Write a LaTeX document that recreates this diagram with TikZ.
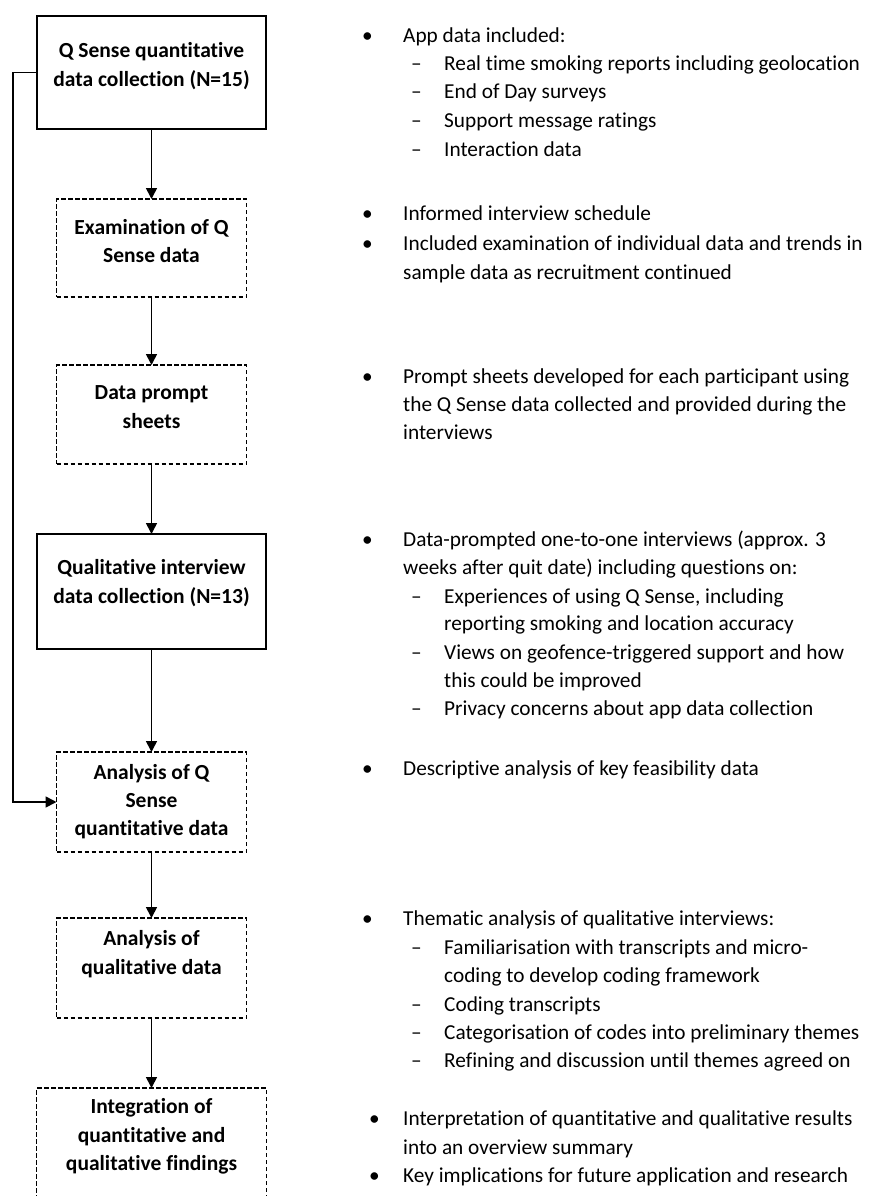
\documentclass[tikz,border=0pt]{standalone}
\usepackage{fontspec}
\setmainfont{Carlito}[Ligatures={NoCommon}]
\usetikzlibrary{arrows.meta}
\begin{document}
\begin{tikzpicture}[x=1pt,y=-1pt,
  box/.style={draw, line width=1.5pt, inner sep=0pt, outer sep=0pt},
  dbox/.style={box, dash pattern=on 4.5pt off 2.5pt},
  arr/.style={line width=1.7pt, -{Triangle[length=11pt,width=11pt]}},
  lbl/.style={align=center, inner sep=0pt, font=\fontsize{21.5}{28.3}\selectfont\bfseries},
  txt/.style={anchor=base west, inner sep=0pt, font=\fontsize{21.3}{28.3}\selectfont}]
\useasboundingbox (0,0) rectangle (870,1196);
\fill[white] (0,0) rectangle (870,1196);
% boxes
\node[box,  minimum width=229pt, minimum height=113pt] (b1) at (151.5,72.5) {};
\node[dbox, minimum width=190pt, minimum height=98pt]  (b2) at (151.5,248) {};
\node[dbox, minimum width=190pt, minimum height=99pt]  (b3) at (151.5,414.5) {};
\node[box,  minimum width=229pt, minimum height=115pt] (b4) at (151.5,591.5) {};
\node[dbox, minimum width=190pt, minimum height=100pt] (b5) at (151.5,802) {};
\node[dbox, minimum width=190pt, minimum height=100pt] (b6) at (151.5,968) {};
\node[dbox, minimum width=230pt, minimum height=140pt] (b7) at (151.5,1158) {};
% labels
\node[lbl] (l1) at (151.5,66) {Q Sense quantitative\\data collection (N=15)};
\node[lbl] (l2) at (151.5,241) {Examination of Q\\Sense data};
\node[lbl] (l3) at (151.5,407) {Data prompt\\sheets};
\node[lbl] (l4) at (151.5,583) {Qualitative interview\\data collection (N=13)};
\node[lbl] (l5) at (151.5,801.5) {Analysis of Q\\Sense\\quantitative data};
\node[lbl] (l6) at (151.5,954) {Analysis of\\qualitative data};
\node[lbl] (l7) at (151.5,1136.5) {Integration of\\quantitative and\\qualitative findings};
% arrows
\draw[arr] (b1.south) -- (b2.north);
\draw[arr] (b2.south) -- (b3.north);
\draw[arr] (b3.south) -- (b4.north);
\draw[arr] (b4.south) -- (b5.north);
\draw[arr] (b5.south) -- (b6.north);
\draw[arr] (b6.south) -- (b7.north);
\draw[arr] (b1.west) -- ++(-24,0) |- (b5.west);
% right-hand text
\node[txt] (u1) at (362,43) {•};
\node[txt] (r1) at (403,43) {App data included:};
\node[txt] (d2) at (411,71) {–};
\node[txt] (r2) at (444,71) {Real time smoking reports including geolocation};
\node[txt] (d3) at (411,99) {–};
\node[txt] (r3) at (444,99) {End of Day surveys};
\node[txt] (d4) at (411,128) {–};
\node[txt] (r4) at (444,128) {Support message ratings};
\node[txt] (d5) at (411,156) {–};
\node[txt] (r5) at (444,156) {Interaction data};
\node[txt] (u6) at (362,220) {•};
\node[txt] (r6) at (403,220) {Informed interview schedule};
\node[txt] (u7) at (362,250) {•};
\node[txt] (r7) at (403,250) {Included examination of individual data and trends in};
\node[txt] (r8) at (403,279) {sample data as recruitment continued};
\node[txt] (u9) at (362,383) {•};
\node[txt] (r9) at (403,383) {Prompt sheets developed for each participant using};
\node[txt] (r10) at (403,411) {the Q Sense data collected and provided during the};
\node[txt] (r11) at (403,439) {interviews};
\node[txt] (u12) at (362,546) {•};
\node[txt] (r12) at (403,546) {Data-prompted one-to-one interviews (approx. 3};
\node[txt] (r13) at (403,574) {weeks after quit date) including questions on:};
\node[txt] (d14) at (411,603) {–};
\node[txt] (r14) at (444,603) {Experiences of using Q Sense, including};
\node[txt] (r15) at (444,630) {reporting smoking and location accuracy};
\node[txt] (d16) at (411,659) {–};
\node[txt] (r16) at (444,659) {Views on geofence-triggered support and how};
\node[txt] (r17) at (444,687) {this could be improved};
\node[txt] (d18) at (411,715) {–};
\node[txt] (r18) at (444,715) {Privacy concerns about app data collection};
\node[txt] (u19) at (362,775) {•};
\node[txt] (r19) at (403,775) {Descriptive analysis of key feasibility data};
\node[txt] (u20) at (362,925) {•};
\node[txt] (r20) at (403,925) {Thematic analysis of qualitative interviews:};
\node[txt] (d21) at (411,954) {–};
\node[txt] (r21) at (444,954) {Familiarisation with transcripts and micro-};
\node[txt] (r22) at (444,982) {coding to develop coding framework};
\node[txt] (d23) at (411,1011) {–};
\node[txt] (r23) at (444,1011) {Coding transcripts};
\node[txt] (d24) at (411,1039) {–};
\node[txt] (r24) at (444,1039) {Categorisation of codes into preliminary themes};
\node[txt] (d25) at (411,1067) {–};
\node[txt] (r25) at (444,1067) {Refining and discussion until themes agreed on};
\node[txt] (u26) at (369,1125) {•};
\node[txt] (r26) at (403,1125) {Interpretation of quantitative and qualitative results};
\node[txt] (r27) at (403,1154) {into an overview summary};
\node[txt] (u28) at (369,1182) {•};
\node[txt] (r28) at (403,1182) {Key implications for future application and research};
\end{tikzpicture}
\end{document}
